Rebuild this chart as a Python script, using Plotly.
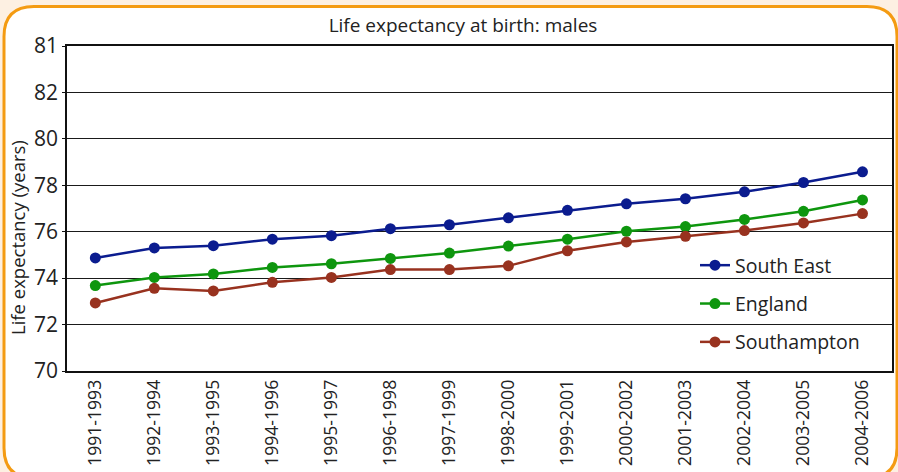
import plotly.graph_objects as go

periods = ["1991-1993", "1992-1994", "1993-1995", "1994-1996", "1995-1997", "1996-1998",
           "1997-1999", "1998-2000", "1999-2001", "2000-2002", "2001-2003", "2002-2004",
           "2003-2005", "2004-2006"]
south_east = [74.87, 75.3, 75.4, 75.68, 75.83, 76.13, 76.3, 76.6, 76.92, 77.2, 77.42, 77.72, 78.12, 78.58]
england = [73.68, 74.03, 74.18, 74.46, 74.62, 74.85, 75.08, 75.38, 75.68, 76.02, 76.22, 76.53, 76.88, 77.37]
southampton = [72.93, 73.56, 73.45, 73.82, 74.03, 74.37, 74.37, 74.53, 75.18, 75.56, 75.8, 76.05, 76.38, 76.78]

y_tickvals = [70, 72, 74, 76, 78, 80, 82, 84]
y_ticktext = ["70", "72", "74", "76", "78", "80", "82", "81"]

series = [
    ("South East", south_east, "#0B1C8F"),
    ("England", england, "#0E960E"),
    ("Southampton", southampton, "#98321F"),
]

FONT = "Open Sans"
W, H = 898, 472
L, R, T, B = 67, 6, 46, 101
PW, PH = W - L - R, H - T - B


def px(x):
    return (x - L) / PW


def py(y):
    return (H - B - y) / PH


fig = go.Figure()
for i, (name, vals, col) in enumerate(series):
    fig.add_trace(go.Scatter(
        x=periods, y=vals, name=name, mode="lines+markers",
        line=dict(color=col, width=2.5),
        marker=dict(color=col, size=11),
        legendgroup=name,
    ))

# rounded orange frame
x0, y0, x1, y1, r = 4, 6.5, 897, 478, 30
path = (f"M {px(x0)},{py(y0 + r)} "
        f"Q {px(x0)},{py(y0)} {px(x0 + r)},{py(y0)} "
        f"L {px(x1 - r)},{py(y0)} "
        f"Q {px(x1)},{py(y0)} {px(x1)},{py(y0 + r)} "
        f"L {px(x1)},{py(y1 - r)} "
        f"Q {px(x1)},{py(y1)} {px(x1 - r)},{py(y1)} "
        f"L {px(x0 + r)},{py(y1)} "
        f"Q {px(x0)},{py(y1)} {px(x0)},{py(y1 - r)} Z")
fig.add_shape(type="path", path=path, xref="paper", yref="paper",
              line=dict(color="#F49B12", width=3), fillcolor="white", layer="below")

# y-axis title placed like the original (slightly below the plot centre)
fig.add_annotation(text="Life expectancy (years)", textangle=-90,
                   x=px(18), y=py(238), xref="paper", yref="paper",
                   xanchor="center", yanchor="middle", showarrow=False,
                   font=dict(size=18.5, family=FONT, color="#222222"))

fig.update_layout(
    width=W, height=H,
    margin=dict(l=L, r=R, t=T, b=B, autoexpand=False),
    paper_bgcolor="#FDF0E2",
    plot_bgcolor="white",
    font=dict(family=FONT, color="#222222"),
    title=dict(text="Life expectancy at birth: males", x=463 / W, xanchor="center",
               xref="container", y=1 - 25 / H, yanchor="middle", yref="container",
               font=dict(size=19, family=FONT, color="#222222")),
    showlegend=True,
    legend=dict(x=px(695), y=py(246), xanchor="left", yanchor="top",
                bgcolor="rgba(0,0,0,0)", font=dict(size=19.5, family=FONT, color="#222222"),
                tracegroupgap=10, itemwidth=30, traceorder="grouped"),
    xaxis=dict(
        type="category", range=[-0.48, 13.5],
        showgrid=False, showline=True, mirror=True, linecolor="#111111", linewidth=1.5,
        ticks="", tickangle=-90, tickfont=dict(size=17.6, family=FONT, color="#222222"),
        automargin=False,
    ),
    yaxis=dict(
        range=[70, 84], tickvals=y_tickvals, ticktext=y_ticktext,
        showgrid=True, gridcolor="#1a1a1a", gridwidth=1.2,
        showline=True, mirror=True, linecolor="#111111", linewidth=1.5,
        ticks="outside", ticklen=3, tickcolor="#111111",
        tickfont=dict(size=21, family=FONT, color="#222222"),
        zeroline=False, automargin=False,
    ),
)

fig.write_html("out.html", config={"displayModeBar": False},
               post_script="document.body.style.margin='0';document.body.style.background='#FDF0E2';")
